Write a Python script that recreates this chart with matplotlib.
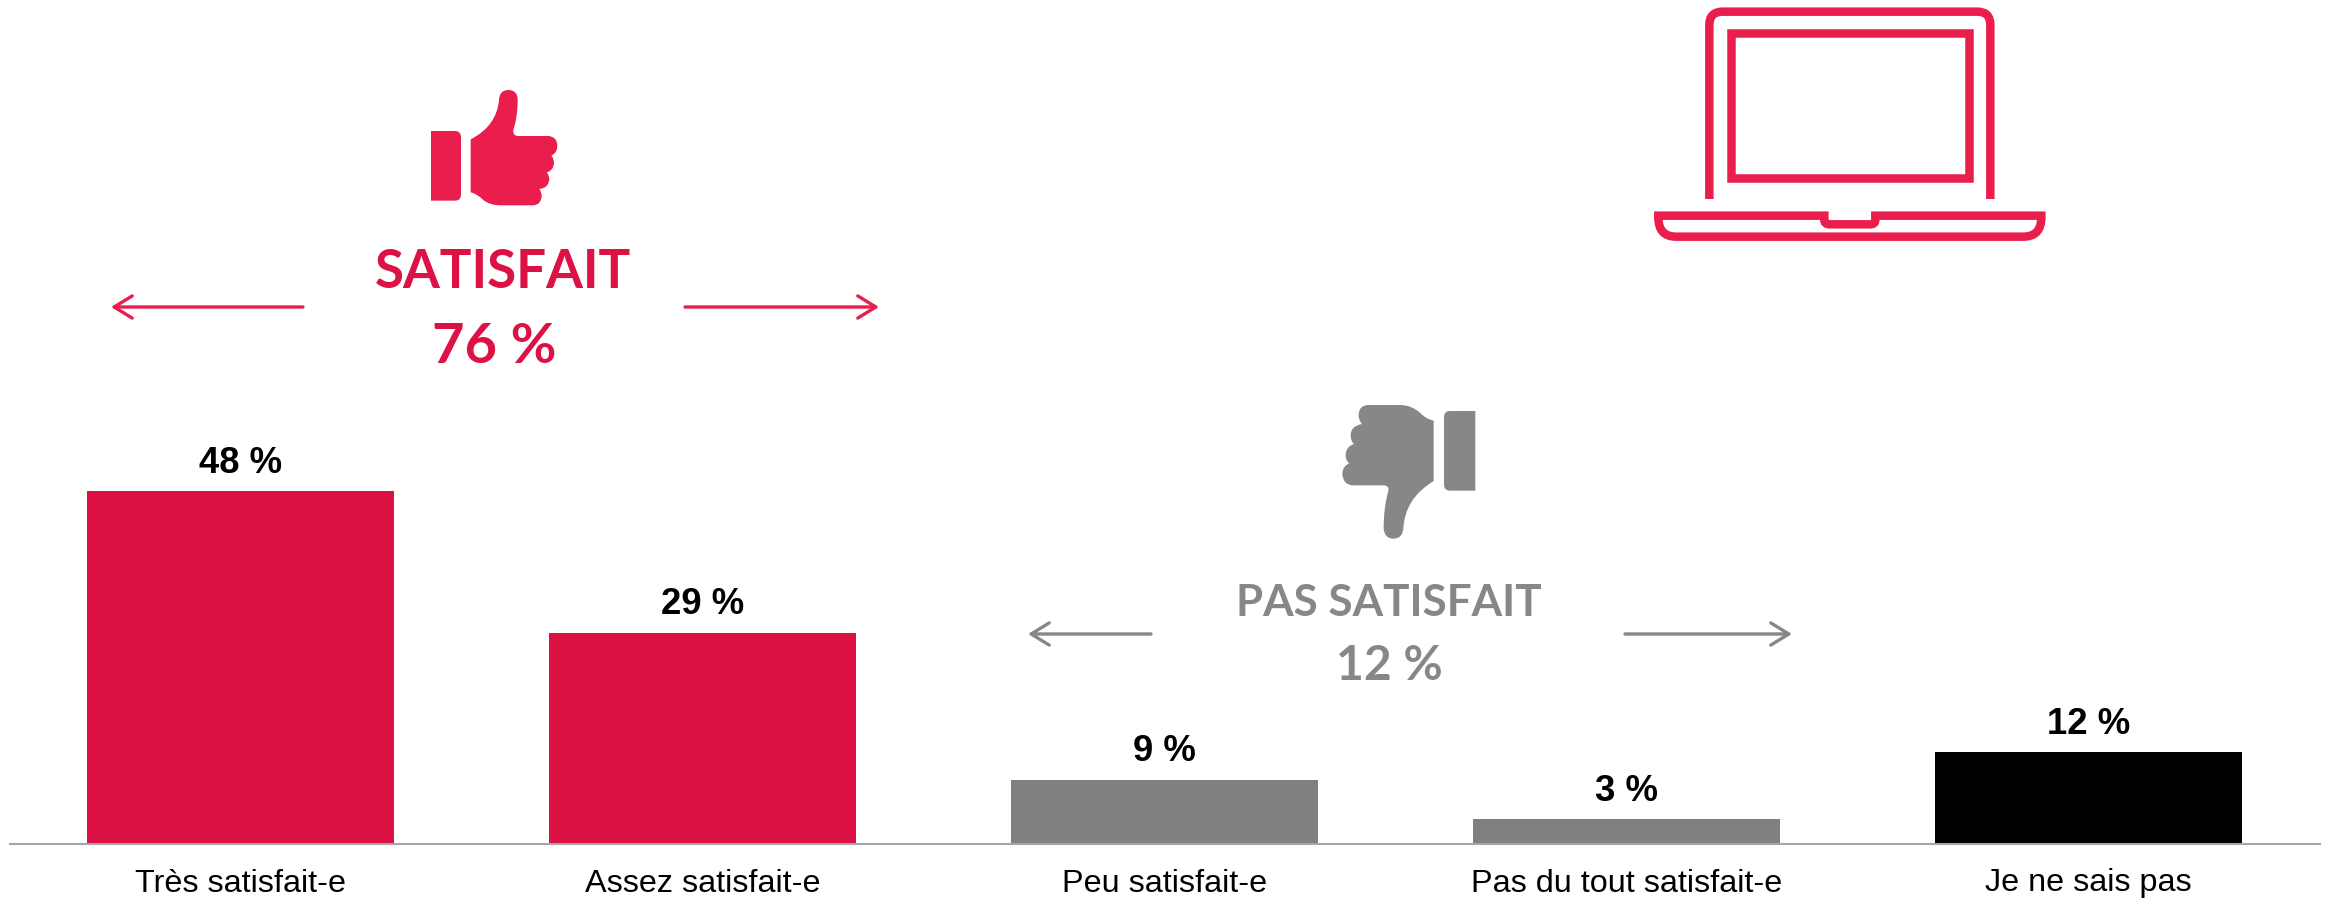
import matplotlib
matplotlib.use('Agg')
import matplotlib.pyplot as plt
from matplotlib.path import Path
from matplotlib.patches import PathPatch

categories = ['Très satisfait-e', 'Assez satisfait-e', 'Peu satisfait-e', 'Pas du tout satisfait-e', 'Je ne sais pas']
values = [48, 28.7, 8.7, 3.3, 12.4]
value_labels = ['48 %', '29 %', '9 %', '3 %', '12 %']
bar_colors = ['#DC1245', '#DC1245', '#808080', '#808080', '#000000']

W, H = 2331, 898
RED = '#E91E4D'
GREY = '#878787'
px = 0.72  # 1 pixel in points at dpi 100

plt.rcParams['font.family'] = ['Liberation Sans', 'DejaVu Sans']

fig = plt.figure(figsize=(W / 100, H / 100), dpi=100)

# bars
base_y = 843.5
ax = fig.add_axes([9.5 / W, (H - base_y) / H, 2310 / W, base_y / H])
ax.bar(range(len(values)), values, width=0.6645, color=bar_colors)
ax.set_xlim(-0.5, 4.5)
ax.set_ylim(0, base_y / 7.34)
ax.set_xticks(range(len(categories)))
ax.set_xticklabels(categories, fontsize=32.4 * px, color='black')
ax.tick_params(axis='x', length=0, pad=18)
ax.set_yticks([])
for s in ['top', 'left', 'right']:
    ax.spines[s].set_visible(False)
ax.spines['bottom'].set_color('#A6A6A6')
ax.spines['bottom'].set_linewidth(1.5)
ax.patch.set_alpha(0)
for i, v in enumerate(values):
    ax.annotate(value_labels[i], (i, v), xytext=(0, 28 * px), textcoords='offset points',
                ha='center', va='center', fontsize=36.5 * px, fontweight='bold', color='black')

# overlay in pixel coordinates for the icons and group titles
ov = fig.add_axes([0, 0, 1, 1])
ov.set_xlim(0, W)
ov.set_ylim(H, 0)
ov.axis('off')
ov.patch.set_alpha(0)


def shape(cmds, ox, oy, color, fill=True, lw=0):
    verts = [(ox + x / 3, oy + y / 3) for _, x, y in cmds]
    codes = [c for c, _, _ in cmds]
    ov.add_patch(PathPatch(Path(verts, codes), facecolor=color if fill else 'none',
                           edgecolor=color if not fill else 'none', lw=lw, joinstyle='miter'))


M, L, C, Z = Path.MOVETO, Path.LINETO, Path.CURVE3, Path.CLOSEPOLY

# thumb up
shape([(M, 213, 243), (L, 285, 243), (C, 303, 243), (L, 303, 262), (L, 303, 433), (C, 303, 452), (L, 285, 452),
       (L, 213, 452), (Z, 213, 243)], 360, 50, RED)
shape([(M, 332, 268), (C, 410, 228), (L, 417, 150), (C, 418, 120), (L, 445, 120), (C, 473, 120), (L, 473, 150),
       (C, 473, 200), (L, 460, 240), (C, 458, 258), (L, 475, 258), (L, 565, 258), (C, 592, 260), (L, 592, 288),
       (C, 592, 308), (L, 574, 317), (C, 582, 325), (L, 582, 340), (C, 580, 362), (L, 560, 367),
       (C, 568, 375), (L, 568, 388), (C, 565, 415), (L, 538, 417), (C, 545, 425), (L, 545, 438),
       (C, 543, 466), (L, 518, 466), (L, 420, 466), (C, 390, 466), (L, 370, 450), (C, 352, 432), (L, 332, 427),
       (Z, 332, 268)], 360, 50, RED)

# thumb down
shape([(M, 526, 93), (L, 450, 93), (C, 432, 93), (L, 432, 112), (L, 432, 313), (C, 432, 332), (L, 450, 332),
       (L, 526, 332), (Z, 526, 93)], 1300, 380, GREY)
shape([(M, 401, 122), (C, 380, 118), (L, 362, 100), (C, 335, 75), (L, 300, 75), (L, 205, 75), (C, 176, 76),
       (L, 176, 105), (C, 176, 122), (L, 186, 132), (C, 152, 138), (L, 152, 165), (C, 152, 185), (L, 162, 192),
       (C, 137, 200), (L, 137, 225), (C, 137, 242), (L, 148, 250), (C, 127, 258), (L, 127, 283),
       (C, 130, 315), (L, 158, 316), (L, 250, 316), (C, 268, 316), (L, 265, 333), (C, 251, 380), (L, 251, 445),
       (C, 253, 476), (L, 280, 476), (C, 308, 476), (L, 310, 445), (C, 315, 355), (L, 401, 303), (Z, 401, 122)],
      1300, 380, GREY)

# laptop
lap_lw = 8.5 * px
shape([(M, 208, 597), (L, 208, 75), (C, 208, 35), (L, 248, 35), (L, 1012, 35), (C, 1051, 35), (L, 1051, 75),
       (L, 1051, 597)], 1640, 0, RED, fill=False, lw=lap_lw)
shape([(M, 272, 98), (L, 987, 98), (L, 987, 533), (L, 272, 533), (Z, 272, 98)], 1640, 0, RED, fill=False, lw=lap_lw)
shape([(M, 55, 647), (L, 553, 647), (L, 553, 660), (C, 553, 673), (L, 570, 673), (L, 690, 673), (C, 706, 673),
       (L, 706, 660), (L, 706, 647), (L, 1204, 647), (L, 1204, 652), (C, 1204, 710), (L, 1150, 710),
       (L, 108, 710), (C, 55, 710), (L, 55, 652), (Z, 55, 647)], 1640, 0, RED, fill=False, lw=lap_lw)

# group titles
ov.text(503, 272, 'SATISFAIT', family=['Lato', 'DejaVu Sans'], fontweight='bold', fontsize=53 * px,
        color='#DC1245', ha='center', va='center')
ov.text(494, 347, '76 %', family=['Lato', 'DejaVu Sans'], fontweight='bold', fontsize=56 * px,
        color='#DC1245', ha='center', va='center')
ov.text(1389, 603, 'PAS SATISFAIT', family=['Lato', 'DejaVu Sans'], fontweight='bold', fontsize=44 * px,
        color=GREY, ha='center', va='center')
ov.text(1389, 666, '12 %', family=['Lato', 'DejaVu Sans'], fontweight='bold', fontsize=48 * px,
        color=GREY, ha='center', va='center')

# arrows
for x0, x1, y, c in [(303, 111, 307, RED), (685, 879, 307, RED), (1151, 1028, 634, GREY), (1625, 1792, 634, GREY)]:
    ov.annotate('', xy=(x1, y), xytext=(x0, y),
                arrowprops=dict(arrowstyle='->,head_length=1.3,head_width=0.8', color=c, lw=2.4,
                                shrinkA=0, shrinkB=0))

fig.savefig('out.png', dpi=100)
